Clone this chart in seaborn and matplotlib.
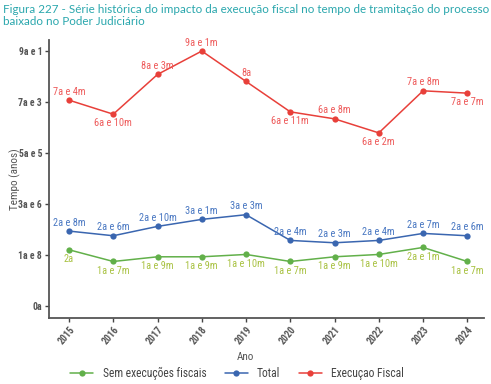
import matplotlib
matplotlib.use("Agg")
import matplotlib.pyplot as plt
import pandas as pd
import seaborn as sns

YEARS = ["2015", "2016", "2017", "2018", "2019", "2020", "2021", "2022", "2023", "2024"]

SEM_EXEC = [2.0, 1 + 7 / 12, 1 + 9 / 12, 1 + 9 / 12, 1 + 10 / 12, 1 + 7 / 12, 1 + 9 / 12, 1 + 10 / 12, 2 + 1 / 12, 1 + 7 / 12]
SEM_LABELS = ["2a", "1a e 7m", "1a e 9m", "1a e 9m", "1a e 10m", "1a e 7m", "1a e 9m", "1a e 10m", "2a e 1m", "1a e 7m"]

TOTAL = [2 + 8 / 12, 2 + 6 / 12, 2 + 10 / 12, 3 + 1 / 12, 3 + 3 / 12, 2 + 4 / 12, 2 + 3 / 12, 2 + 4 / 12, 2 + 7 / 12, 2 + 6 / 12]
TOTAL_LABELS = ["2a e 8m", "2a e 6m", "2a e 10m", "3a e 1m", "3a e 3m", "2a e 4m", "2a e 3m", "2a e 4m", "2a e 7m", "2a e 6m"]

EXEC_FISCAL = [7 + 4 / 12, 6 + 10 / 12, 8 + 3 / 12, 9 + 1 / 12, 8.0, 6 + 11 / 12, 6 + 8 / 12, 6 + 2 / 12, 7 + 8 / 12, 7 + 7 / 12]
EXEC_LABELS = ["7a e 4m", "6a e 10m", "8a e 3m", "9a e 1m", "8a", "6a e 11m", "6a e 8m", "6a e 2m", "7a e 8m", "7a e 7m"]
EXEC_ABOVE = [True, False, True, True, True, False, True, False, True, False]

SERIES = ["Sem execuções fiscais", "Total", "Execuçao Fiscal"]
Y_TICK_LABELS = ["0a", "1a e 8", "3a e 6", "5a e 5", "7a e 3", "9a e 1"]

LINE_COLORS = ["#62b04a", "#3a66b0", "#e8403a"]
TEXT_COLORS = ["#a9c243", "#4a78c2", "#ee5b5b"]

sns.set_style("ticks")
plt.rcParams["font.family"] = ["Roboto Condensed", "DejaVu Sans"]

df = pd.DataFrame(
    {
        "Ano": list(range(len(YEARS))) * 3,
        "Tempo": SEM_EXEC + TOTAL + EXEC_FISCAL,
        "Serie": [s for s in SERIES for _ in YEARS],
    }
)

fig = plt.figure(figsize=(4.91, 3.84), dpi=100)
ax = fig.add_axes([0.1, 0.172, 0.886, 0.724])

sns.lineplot(
    data=df,
    x="Ano",
    y="Tempo",
    hue="Serie",
    hue_order=SERIES,
    palette=LINE_COLORS,
    marker="o",
    markersize=4.5,
    markeredgewidth=0,
    linewidth=1.1,
    ax=ax,
)


def put_label(text, x, y, color, above):
    if above:
        ax.annotate(text, (x, y), xytext=(0, 2.5), textcoords="offset points",
                    ha="center", va="bottom", fontsize=7.5, color=color)
    else:
        ax.annotate(text, (x, y), xytext=(0, -3), textcoords="offset points",
                    ha="center", va="top", fontsize=7.5, color=color)


for i in range(len(YEARS)):
    put_label(SEM_LABELS[i], i, SEM_EXEC[i], TEXT_COLORS[0], False)
    put_label(TOTAL_LABELS[i], i, TOTAL[i], TEXT_COLORS[1], True)
    put_label(EXEC_LABELS[i], i, EXEC_FISCAL[i], TEXT_COLORS[2], EXEC_ABOVE[i])

step = max(EXEC_FISCAL) / 5
ax.set_yticks([k * step for k in range(len(Y_TICK_LABELS))])
ax.set_yticklabels(Y_TICK_LABELS)
ax.set_xticks(range(len(YEARS)))
ax.set_xticklabels(YEARS, rotation=50, ha="right", rotation_mode="anchor")
ax.set_xlim(-0.45, 9.38)
ax.set_ylim(-0.43, 9.48)

ax.tick_params(axis="both", labelsize=7, colors="#444444", length=3, width=1, labelcolor="#555555", pad=2)
for lbl in ax.get_xticklabels() + ax.get_yticklabels():
    lbl.set_fontweight("semibold")
for side in ["top", "right"]:
    ax.spines[side].set_visible(False)
for side in ["left", "bottom"]:
    ax.spines[side].set_color("#555555")
    ax.spines[side].set_linewidth(1.3)

ax.set_xlabel("Ano", fontsize=8, color="#555555")
ax.set_ylabel("Tempo (anos)", fontsize=8, color="#555555")
ax.xaxis.set_label_coords(0.452, -0.122)
ax.yaxis.set_label_coords(-0.065, 0.5)

handles, labels = ax.get_legend_handles_labels()
ax.legend(handles, labels, loc="center", bbox_to_anchor=(0.432, -0.198), ncol=3, frameon=False,
          fontsize=8.3, handlelength=2, columnspacing=1.6, labelcolor="#444444")

fig.text(0.006, 0.99, "Figura 227 - Série histórica do impacto da execução fiscal no tempo de tramitação do processo\nbaixado no Poder Judiciário",
         ha="left", va="top", fontsize=8.4, color="#2aa7ad", family=["Lato", "DejaVu Sans"],
         linespacing=1.1)

fig.savefig("out.png", dpi=100)
